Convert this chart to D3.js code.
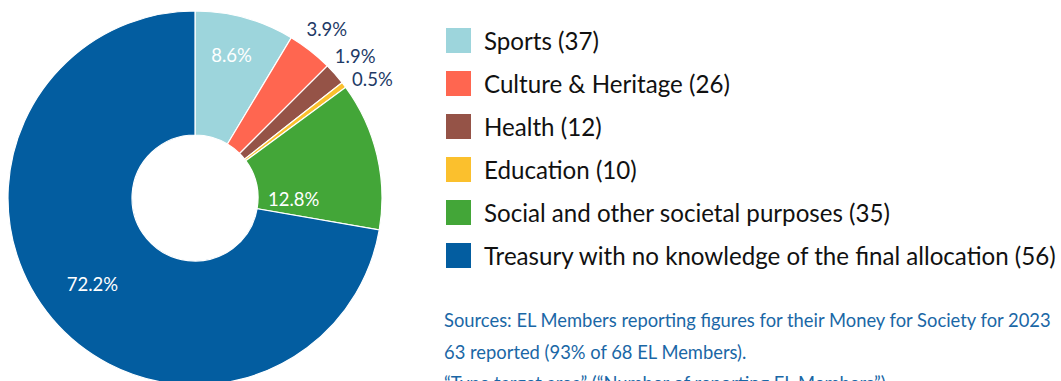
<!DOCTYPE html>
<html>
<head>
<meta charset="utf-8">
<script src="https://cdn.jsdelivr.net/npm/d3@7"></script>
<style>
  html, body { margin: 0; padding: 0; background: #fff; }
  svg { display: block; }
</style>
</head>
<body>
<svg id="chart" width="1061" height="381"></svg>
<script>
// Money for Society 2023 – allocation by target area
const categories = [
  "Sports",
  "Culture & Heritage",
  "Health",
  "Education",
  "Social and other societal purposes",
  "Treasury with no knowledge of the final allocation"
];
const memberCounts = [37, 26, 12, 10, 35, 56];
const shares = [8.6, 3.9, 1.9, 0.5, 12.8, 72.2];
const colors = ["#9dd5dc", "#ff6650", "#955347", "#fbc02d", "#43a638", "#035da0"];
const sourceLines = [
  "Sources: EL Members reporting figures for their Money for Society for 2023",
  "63 reported (93% of 68 EL Members).",
  "\u201CType target area\u201D (\u201CNumber of reporting EL Members\u201D)"
];

const svg = d3.select("#chart");
const cx = 195, cy = 198, outerR = 187, innerR = 63;

const data = categories.map((c, i) => ({ name: c, count: memberCounts[i], share: shares[i], color: colors[i] }));

const pie = d3.pie().value(d => d.share).sort(null);
const arcs = pie(data);
const arc = d3.arc().innerRadius(innerR).outerRadius(outerR);

const g = svg.append("g").attr("transform", `translate(${cx},${cy})`);

g.selectAll("path.slice")
  .data(arcs)
  .join("path")
  .attr("class", "slice")
  .attr("d", arc)
  .attr("fill", d => d.data.color)
  .attr("stroke", "#fff")
  .attr("stroke-width", 1.2);

// Percentage labels: wide slices inside, narrow slices outside
const outsideArc = d3.arc().innerRadius(214).outerRadius(214);
const insideRadius = { "Sports": 148, "Social and other societal purposes": 123, "Treasury with no knowledge of the final allocation": 134 };
const labelNudge = { "Sports": [-3, 0], "Social and other societal purposes": [-21, 29], "Education": [7, 10] };

g.selectAll("text.pct")
  .data(arcs)
  .join("text")
  .attr("class", "pct")
  .each(function(d) {
    const inside = d.data.share > 5;
    let pos;
    if (inside) {
      const r = insideRadius[d.data.name] || 140;
      pos = d3.arc().innerRadius(r).outerRadius(r).centroid(d);
    } else {
      pos = outsideArc.centroid(d);
    }
    const n = labelNudge[d.data.name] || [0, 0];
    d3.select(this)
      .attr("x", pos[0] + n[0])
      .attr("y", pos[1] + n[1])
      .attr("fill", inside ? "#ffffff" : "#1e3a66");
  })
  .attr("text-anchor", "middle")
  .attr("dominant-baseline", "central")
  .attr("font-family", "Lato, 'Open Sans', sans-serif")
  .attr("font-weight", 400)
  .attr("font-size", 18.5)
  .text(d => d.data.share.toFixed(1) + "%");

// Legend
const legend = svg.append("g").attr("transform", "translate(446,28)");
const rowH = 43;
const rows = legend.selectAll("g.row")
  .data(data)
  .join("g")
  .attr("class", "row")
  .attr("transform", (d, i) => `translate(0,${i * rowH})`);

rows.append("rect")
  .attr("width", 25).attr("height", 25)
  .attr("fill", d => d.color);

const legendText = rows.append("text")
  .attr("x", 38)
  .attr("y", 22)
  .attr("fill", "#111")
  .attr("font-family", "Lato, 'Open Sans', sans-serif")
  .attr("font-size", 20)
  .text(d => `${d.name} (${d.count})`);

// scale legend font so the longest entry spans the available width
const longest = d3.max(legendText.nodes(), n => n.getComputedTextLength());
legendText.attr("font-size", 20 * 572 / longest);

// Source notes
const notes = svg.append("g");
const noteText = notes.selectAll("text")
  .data(sourceLines)
  .join("text")
  .attr("x", 444)
  .attr("y", (d, i) => 327 + i * 31.5)
  .attr("fill", "#1a67a6")
  .attr("font-family", "Lato, 'Open Sans', sans-serif")
  .attr("font-size", 15)
  .text(d => d);
const firstW = noteText.nodes()[0].getComputedTextLength();
noteText.attr("font-size", 15 * 607 / firstW);
</script>
</body>
</html>
